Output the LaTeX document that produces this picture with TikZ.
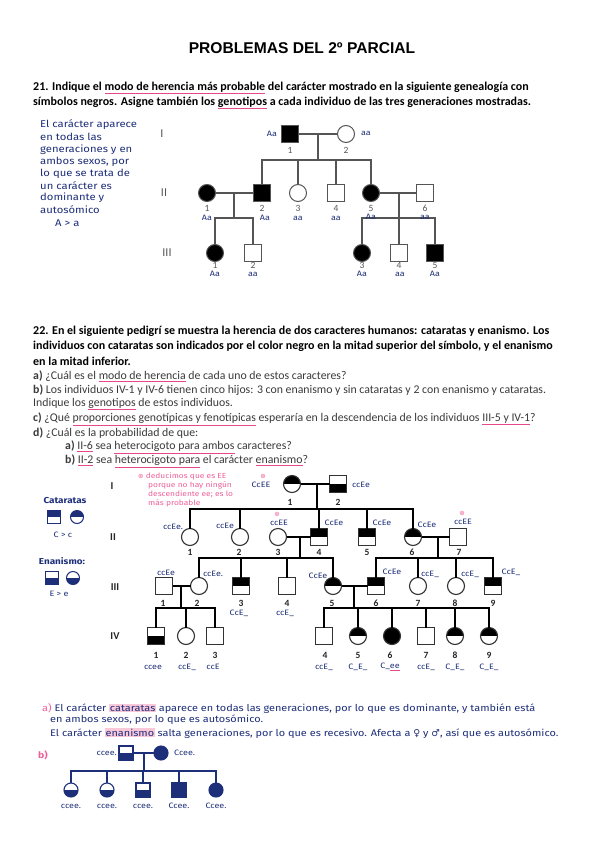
\documentclass[tikz,border=0pt]{standalone}
\usepackage{fontspec}
\setmainfont{Carlito}
\newfontfamily\titlefont{Liberation Sans}
\newfontfamily\hand[FakeStretch=1.15]{Fira Sans}
\newfontfamily\sym{DejaVu Sans}
\usetikzlibrary{calc}
\definecolor{navy}{HTML}{1E2F7A}
\definecolor{pinkc}{HTML}{E8478B}
\definecolor{pinknote}{HTML}{EE5F98}
\definecolor{txtgray}{HTML}{3A3A3A}
\definecolor{pedgray}{HTML}{555555}
\definecolor{hilite}{HTML}{F9C9DA}
\newcommand\pu[1]{\begingroup\colorlet{keepc}{.}\color{pinkc}$\underline{\hbox{\color{keepc}#1}}$\endgroup}
\newcommand\hl[1]{\begingroup\setlength\fboxsep{0.6pt}\colorbox{hilite}{#1}\endgroup}
\newcommand\pstar{{\sym\fontsize{6.5}{6.5}\selectfont ⊛}}
\tikzset{
 pline/.style={draw=pedgray, line width=1.1pt},
 bline/.style={draw=black, line width=1.4pt},
 nline/.style={draw=navy, line width=1.3pt},
 symA/.style={draw=pedgray, line width=1pt, minimum size=17pt, inner sep=0pt, outer sep=0pt},
 symB/.style={draw=black!80, line width=1.1pt, minimum size=17pt, inner sep=0pt, outer sep=0pt},
 symN/.style={draw=navy, line width=1.1pt, minimum size=14pt, inner sep=0pt, outer sep=0pt},
 symL/.style={draw=navy, line width=1pt, minimum size=13pt, inner sep=0pt, outer sep=0pt},
 msq/.style={rectangle}, fci/.style={circle},
 full/.style={fill=#1}, full/.default=black,
 tophalf/.style={path picture={\fill[#1] (path picture bounding box.west) rectangle (path picture bounding box.north east);}}, tophalf/.default=black,
 bothalf/.style={path picture={\fill[#1] (path picture bounding box.west) rectangle (path picture bounding box.south east);}}, bothalf/.default=black,
 numA/.style={font=\fontsize{9.5}{10}\selectfont, text=pedgray, inner sep=0pt},
 numB/.style={font=\bfseries\fontsize{9.5}{10}\selectfont, text=black!85, inner sep=0pt},
 genA/.style={font=\fontsize{12}{12}\selectfont, text=pedgray, inner sep=0pt},
 genB/.style={font=\bfseries\fontsize{10.5}{12}\selectfont, text=black!85, inner sep=0pt},
 gt/.style={font=\hand\fontsize{7.8}{8}\selectfont, text=navy, inner sep=0pt},
 legt/.style={font=\hand\bfseries\fontsize{8.6}{9}\selectfont, text=navy, inner sep=0pt},
 note/.style={font=\hand\fontsize{9.8}{10}\selectfont, text=navy, anchor=west, inner sep=0pt},
 ans/.style={font=\hand\fontsize{9.5}{10}\selectfont, text=navy, anchor=west, inner sep=0pt},
 pnote/.style={font=\hand\fontsize{7.3}{8}\selectfont, text=pinknote, anchor=west, inner sep=0pt},
 body/.style={anchor=west, inner sep=0pt, font=\fontsize{12}{13}\selectfont},
 light/.style={anchor=west, inner sep=0pt, font=\fontsize{11.8}{13}\selectfont, text=txtgray},
}
\begin{document}
\begin{tikzpicture}[x=1pt,y=-1pt]
\fill[white] (0,0) rectangle (601,848);
\useasboundingbox (0,0) rectangle (601,848);

% ---------- title and problem 21
\node[font=\titlefont\bfseries\fontsize{15.6}{17}\selectfont, inner sep=0pt] (title) at (302,48) {PROBLEMAS DEL 2º PARCIAL};
\node[body] (p21a) at (33,88) {\textbf{21. Indique el \pu{modo de herencia más probable} del carácter mostrado en la siguiente genealogía con}};
\node[body] (p21b) at (33,103) {\textbf{símbolos negros. Asigne también los \pu{genotipos} a cada individuo de las tres generaciones mostradas.}};

% handwritten note
\node[note] (n1) at (40,125) {El carácter aparece};
\node[note] (n2) at (40,137) {en todas las};
\node[note] (n3) at (40,150) {generaciones y en};
\node[note] (n4) at (40,162) {ambos sexos, por};
\node[note] (n5) at (40,174) {lo que se trata de};
\node[note] (n6) at (40,186) {un carácter es};
\node[note] (n7) at (40,198) {dominante y};
\node[note] (n8) at (40,210) {autosómico};
\node[note] (n9) at (55,223) {A > a};

% ---------- pedigree 1
\node[genA] (gI) at (162,134) {I};
\node[genA] (gII) at (164,193) {II};
\node[genA] (gIII) at (167,253) {III};

\node[symA,msq,full] (a11) at (290,134) {};
\node[symA,fci] (a12) at (346,134) {};
\coordinate (am1) at (318,134);
\coordinate (as1) at (318,160);
\draw[pline] (a11) -- (a12);
\draw[pline] (am1) -- (as1);

\node[symA,fci,full] (a21) at (207,193) {};
\node[symA,msq,full] (a22) at (262,193) {};
\node[symA,fci] (a23) at (298,193) {};
\node[symA,msq] (a24) at (336,193) {};
\node[symA,fci,full] (a25) at (371,193) {};
\node[symA,msq] (a26) at (425,193) {};
\draw[pline] (a22.north) |- (as1);
\draw[pline] (a23.north) |- (as1);
\draw[pline] (a24.north) |- (as1);
\draw[pline] (a25.north) |- (as1);
\draw[pline] (a21) -- (a22);
\draw[pline] (a25) -- (a26);
\coordinate (am2) at (234,193);
\coordinate (as2) at (234,218);
\coordinate (am3) at (399,193);
\coordinate (as3) at (399,218);
\draw[pline] (am2) -- (as2);
\draw[pline] (am3) -- (as3);

\node[symA,fci,full] (a31) at (215,253) {};
\node[symA,msq] (a32) at (253,253) {};
\node[symA,fci,full] (a33) at (362,253) {};
\node[symA,msq] (a34) at (399,253) {};
\node[symA,msq,full] (a35) at (435,253) {};
\draw[pline] (a31.north) |- (as2);
\draw[pline] (a32.north) |- (as2);
\draw[pline] (a33.north) |- (as3);
\draw[pline] (a34.north) |- (as3);
\draw[pline] (a35.north) |- (as3);

\node[numA] (na11) at (290,150) {1};
\node[numA] (na12) at (346,150) {2};
\node[numA] (na21) at (207,208) {1};
\node[numA] (na22) at (262,208) {2};
\node[numA] (na23) at (298,208) {3};
\node[numA] (na24) at (336,208) {4};
\node[numA] (na25) at (371,208) {5};
\node[numA] (na26) at (425,208) {6};
\node[numA] (na31) at (215,265) {1};
\node[numA] (na32) at (253,265) {2};
\node[numA] (na33) at (362,265) {3};
\node[numA] (na34) at (399,265) {4};
\node[numA] (na35) at (435,265) {5};

\node[gt] (ga11) at (272,134) {Aa};
\node[gt] (ga12) at (366,133) {aa};
\node[gt] (ga21) at (207,218) {Aa};
\node[gt] (ga22) at (265,218) {Aa};
\node[gt] (ga23) at (298,218) {aa};
\node[gt] (ga24) at (336,218) {aa};
\node[gt] (ga25) at (371,217) {Aa};
\node[gt] (ga26) at (425,217) {aa};
\node[gt] (ga31) at (215,274) {Aa};
\node[gt] (ga32) at (253,274) {aa};
\node[gt] (ga33) at (362,274) {Aa};
\node[gt] (ga34) at (400,274) {aa};
\node[gt] (ga35) at (435,274) {Aa};

% ---------- problem 22 text
\node[body] (q1) at (33,331) {\textbf{22. En el siguiente pedigrí se muestra la herencia de dos caracteres humanos: cataratas y enanismo. Los}};
\node[body] (q2) at (33,346) {\textbf{individuos con cataratas son indicados por el color negro en la mitad superior del símbolo, y el enanismo}};
\node[body] (q3) at (33,361) {\textbf{en la mitad inferior.}};
\node[light] (q4) at (33,376) {\textbf{a)} ¿Cuál es el \pu{modo de herencia} de cada uno de estos caracteres?};
\node[light] (q5) at (33,390) {\textbf{b)} Los individuos IV-1 y IV-6 tienen cinco hijos: 3 con enanismo y sin cataratas y 2 con enanismo y cataratas.};
\node[light] (q6) at (33,404) {Indique los \pu{genotipos} de estos individuos.};
\node[light] (q7) at (33,419) {\textbf{c)} ¿Qué \pu{proporciones genotípicas y fenotípicas} esperaría en la descendencia de los individuos \pu{III-5 y IV-1}?};
\node[light] (q8) at (33,433) {\textbf{d)} ¿Cuál es la probabilidad de que:};
\node[light] (q9) at (65,447) {\textbf{a)} \pu{II-6} sea \pu{heterocigoto para ambos} caracteres?};
\node[light] (q10) at (65,461) {\textbf{b)} \pu{II-2} sea \pu{heterocigoto para} el carácter \pu{enanismo}?};

% ---------- legend
\node[legt] (lc) at (65,501) {Cataratas};
\node[symL,msq,tophalf=navy] (lc1) at (54,517) {};
\node[symL,fci,tophalf=navy] (lc2) at (77,517) {};
\node[gt] (lc3) at (63,535) {C > c};
\node[legt] (le) at (62,561) {Enanismo:};
\node[symL,msq,bothalf=navy] (le1) at (52,578) {};
\node[symL,fci,bothalf=navy] (le2) at (73,578) {};
\node[gt] (le3) at (59,594) {E > e};

% pink note
\node[pnote] (pn1) at (138,476) {\pstar\ deducimos que es EE};
\node[pnote] (pn2) at (148,485) {porque no hay ningún};
\node[pnote] (pn3) at (148,494) {descendiente ee; es lo};
\node[pnote] (pn4) at (148,503) {más probable};

% ---------- pedigree 2
\node[genB] (hI) at (112,486) {I};
\node[genB] (hII) at (113,537) {II};
\node[genB] (hIII) at (115,587) {III};
\node[genB] (hIV) at (115,636) {IV};

\node[symB,fci,tophalf] (b11) at (292,484) {};
\node[symB,msq,bothalf] (b12) at (338,484) {};
\draw[bline] (b11) -- (b12);
\coordinate (bm1) at (317,484);
\coordinate (bs1) at (317,509);
\draw[bline] (bm1) -- (bs1);

\node[symB,fci] (b21) at (190,537) {};
\node[symB,fci] (b22) at (240,537) {};
\node[symB,fci] (b23) at (278,537) {};
\node[symB,msq,tophalf] (b24) at (319,537) {};
\node[symB,msq,tophalf] (b25) at (367,537) {};
\node[symB,fci,tophalf] (b26) at (413,537) {};
\node[symB,msq] (b27) at (458,537) {};
\foreach \k in {b21,b22,b24,b25,b26} \draw[bline] (\k.north) |- (bs1);
\draw[bline] (b23) -- (b24);
\draw[bline] (b26) -- (b27);
\coordinate (bm2) at (300,537);
\coordinate (bs2) at (300,558);
\coordinate (bm3) at (438,537);
\coordinate (bs3) at (438,558);
\draw[bline] (bm2) -- (bs2);
\draw[bline] (bm3) -- (bs3);

\node[symB,msq] (b31) at (164,586) {};
\node[symB,fci] (b32) at (199,586) {};
\node[symB,msq,tophalf] (b33) at (241,586) {};
\node[symB,msq] (b34) at (287,586) {};
\node[symB,fci,tophalf] (b35) at (333,586) {};
\node[symB,msq,tophalf] (b36) at (376,586) {};
\node[symB,fci] (b37) at (418,586) {};
\node[symB,fci] (b38) at (456,586) {};
\node[symB,msq,tophalf] (b39) at (493,586) {};
\foreach \k in {b32,b33,b34,b35} \draw[bline] (\k.north) |- (bs2);
\foreach \k in {b36,b37,b38,b39} \draw[bline] (\k.north) |- (bs3);
\draw[bline] (b31) -- (b32);
\draw[bline] (b35) -- (b36);
\coordinate (bm4) at (181,586);
\coordinate (bs4) at (181,608);
\coordinate (bm5) at (354,586);
\coordinate (bs5) at (354,608);
\draw[bline] (bm4) -- (bs4);
\draw[bline] (bm5) -- (bs5);

\node[symB,msq,bothalf] (b41) at (156,636) {};
\node[symB,fci] (b42) at (186,636) {};
\node[symB,msq] (b43) at (215,636) {};
\node[symB,msq] (b44) at (324,636) {};
\node[symB,fci,tophalf] (b45) at (358,636) {};
\node[symB,fci,full] (b46) at (392,636) {};
\node[symB,msq] (b47) at (426,636) {};
\node[symB,fci,tophalf] (b48) at (455,636) {};
\node[symB,fci,tophalf] (b49) at (489,636) {};
\foreach \k in {b41,b42,b43} \draw[bline] (\k.north) |- (bs4);
\foreach \k in {b44,b45,b46,b47,b48,b49} \draw[bline] (\k.north) |- (bs5);

% numbers pedigree 2
\node[numB] (nb11) at (290,502) {1};
\node[numB] (nb12) at (338,502) {2};
\node[numB] (nb21) at (190,552) {1};
\node[numB] (nb22) at (239,552) {2};
\node[numB] (nb23) at (278,552) {3};
\node[numB] (nb24) at (319,552) {4};
\node[numB] (nb25) at (367,552) {5};
\node[numB] (nb26) at (412,552) {6};
\node[numB] (nb27) at (459,552) {7};
\node[numB] (nb31) at (163,603) {1};
\node[numB] (nb32) at (197,603) {2};
\node[numB] (nb33) at (241,603) {3};
\node[numB] (nb34) at (287,603) {4};
\node[numB] (nb35) at (332,603) {5};
\node[numB] (nb36) at (376,603) {6};
\node[numB] (nb37) at (418,603) {7};
\node[numB] (nb38) at (455,603) {8};
\node[numB] (nb39) at (493,603) {9};
\node[numB] (nb41) at (156,655) {1};
\node[numB] (nb42) at (186,655) {2};
\node[numB] (nb43) at (215,655) {3};
\node[numB] (nb44) at (325,655) {4};
\node[numB] (nb45) at (358,655) {5};
\node[numB] (nb46) at (390,655) {6};
\node[numB] (nb47) at (426,655) {7};
\node[numB] (nb48) at (455,655) {8};
\node[numB] (nb49) at (489,655) {9};

% genotypes pedigree 2
\node[gt,text=pinknote] (s11) at (263,476) {\pstar};
\node[gt] (g11) at (261,485) {CcEE};
\node[gt] (g12) at (361,485) {ccEe};
\node[gt] (g21) at (173,527) {ccEe.};
\node[gt] (g22) at (225,526) {ccEe};
\node[gt,text=pinknote] (s23) at (277,514) {\pstar};
\node[gt] (g23) at (279,523) {ccEE};
\node[gt] (g24) at (334,523) {CcEe};
\node[gt] (g25) at (382,523) {CcEe};
\node[gt] (g26) at (427,525) {CcEe};
\node[gt,text=pinknote] (s27) at (462,513) {\pstar};
\node[gt] (g27) at (463,522) {ccEE};
\node[gt] (g31) at (166,573) {ccEe};
\node[gt] (g32) at (213,574) {ccEe.};
\node[gt] (g33) at (239,613) {CcE\_};
\node[gt] (g34) at (285,613) {ccE\_};
\node[gt] (g35) at (318,576) {CcEe};
\node[gt] (g36) at (392,572) {CcEe};
\node[gt] (g37) at (430,574) {ccE\_};
\node[gt] (g38) at (470,574) {ccE\_};
\node[gt] (g39) at (511,572) {CcE\_};
\node[gt] (g41) at (153,667) {ccee};
\node[gt] (g42) at (187,667) {ccE\_};
\node[gt] (g43) at (213,667) {ccE};
\node[gt] (g44) at (324,667) {ccE\_};
\node[gt] (g45) at (358,667) {C\_E\_};
\node[gt] (g46) at (390,667) {C\_\pu{ee}};
\node[gt] (g47) at (426,667) {ccE\_};
\node[gt] (g48) at (455,667) {C\_E\_};
\node[gt] (g49) at (489,667) {C\_E\_};

% ---------- answer a)
\node[ans] (r1) at (42,708) {{\color{pinknote}a)} El carácter \hl{cataratas} aparece en todas las generaciones, por lo que es dominante, y también está};
\node[ans] (r2) at (50,720) {en ambos sexos, por lo que es autosómico.};
\node[ans] (r3) at (50,733) {El carácter \hl{enanismo} salta generaciones, por lo que es recesivo. Afecta a {\sym ♀} y {\sym ♂}, así que es autosómico.};

% ---------- answer b) pedigree
\node[ans,text=pinknote,font=\hand\bfseries\fontsize{9}{9}\selectfont] (rb) at (38,755) {b)};
\node[symN,msq,bothalf=navy] (c11) at (126,753) {};
\node[symN,fci,full=navy] (c12) at (161,753) {};
\draw[nline] (c11) -- (c12);
\coordinate (cm1) at (144,753);
\coordinate (cs1) at (144,771);
\draw[nline] (cm1) -- (cs1);
\node[symN,fci,bothalf=navy] (c21) at (71,790) {};
\node[symN,fci,bothalf=navy] (c22) at (107,790) {};
\node[symN,msq,bothalf=navy] (c23) at (143,790) {};
\node[symN,msq,full=navy] (c24) at (179,790) {};
\node[symN,fci,full=navy] (c25) at (216,790) {};
\foreach \k in {c21,c22,c23,c24,c25} \draw[nline] (\k.north) |- (cs1);
\node[gt,anchor=east] (gc11) at (117,753) {ccee.};
\node[gt,anchor=west] (gc12) at (174,753) {Ccee.};
\node[gt] (gc21) at (71,806) {ccee.};
\node[gt] (gc22) at (107,806) {ccee.};
\node[gt] (gc23) at (143,806) {ccee.};
\node[gt] (gc24) at (179,806) {Ccee.};
\node[gt] (gc25) at (216,806) {Ccee.};
\end{tikzpicture}
\end{document}
